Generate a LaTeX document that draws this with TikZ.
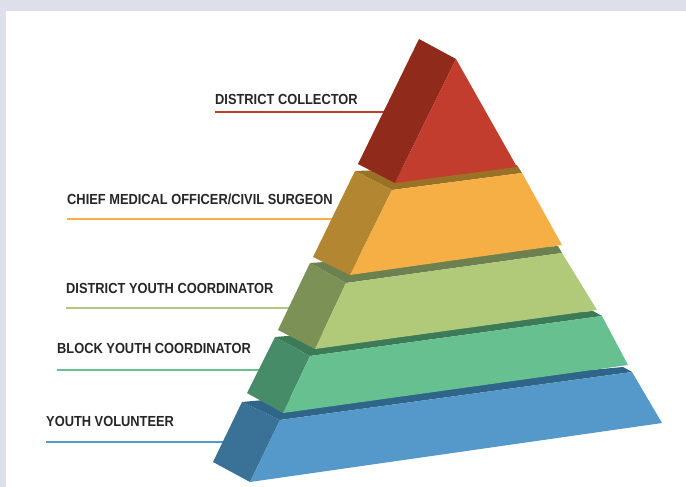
\documentclass[tikz,border=0pt]{standalone}
\usepackage{fontspec}
\setmainfont{Liberation Sans}[FakeStretch=0.88]
\definecolor{frame}{HTML}{DDDFEA}
\definecolor{txt}{HTML}{262626}
\definecolor{redS}{HTML}{902A1A}
\definecolor{redF}{HTML}{C23D2E}
\definecolor{orS}{HTML}{B38632}
\definecolor{orF}{HTML}{F5AF45}
\definecolor{orT}{HTML}{9A7226}
\definecolor{ygS}{HTML}{7C9155}
\definecolor{ygF}{HTML}{B0CA7A}
\definecolor{ygT}{HTML}{6D8050}
\definecolor{tlS}{HTML}{468C68}
\definecolor{tlF}{HTML}{66C08F}
\definecolor{tlT}{HTML}{3D7B58}
\definecolor{blS}{HTML}{3A7297}
\definecolor{blF}{HTML}{5499C9}
\definecolor{blT}{HTML}{2F6589}
\tikzset{
  lbl/.style={anchor=base west, inner sep=0pt, text=txt, font=\fontsize{14.6}{16}\selectfont\bfseries},
  uline/.style={line width=2.4pt},
  face/.style={draw=none}
}
\begin{document}
\begin{tikzpicture}[x=1pt,y=-1pt]
\useasboundingbox (0,0) rectangle (686,487);
\fill[frame] (0,0) rectangle (686,487);
\fill[white] (6,11) rectangle (686,487);
% labels
\node[lbl] (dc) at (215,104) {DISTRICT COLLECTOR};
\node[lbl] (cmo) at (67,204) {CHIEF MEDICAL OFFICER/CIVIL SURGEON};
\node[lbl] (dyc) at (66,293) {DISTRICT YOUTH COORDINATOR};
\node[lbl] (byc) at (57,353) {BLOCK YOUTH COORDINATOR};
\node[lbl] (yv) at (46,426) {YOUTH VOLUNTEER};
% underline coordinates
\coordinate (dcA) at (215,112); \coordinate (dcB) at (395,112);
\coordinate (cmoA) at (67,219); \coordinate (cmoB) at (340,219);
\coordinate (dycA) at (66,308); \coordinate (dycB) at (300,308);
\coordinate (bycA) at (57,370); \coordinate (bycB) at (265,370);
\coordinate (yvA) at (46,442); \coordinate (yvB) at (235,442);
\draw[uline, redF] (dcA) -- (dcB);
\draw[uline, orF] (cmoA) -- (cmoB);
\draw[uline, ygF] (dycA) -- (dycB);
\draw[uline, tlF] (bycA) -- (bycB);
\draw[uline, blF] (yvA) -- (yvB);
% blue tier
\fill[blT] (242,402) -- (623,367) -- (632,372) -- (280,420) -- cycle;
\fill[blS] (242,402) -- (280,420) -- (250,482) -- (213,462) -- cycle;
\fill[blF] (280,420) -- (632,372) -- (662,423) -- (250,482) -- cycle;
% teal tier
\fill[tlT] (275,337) -- (593,311) -- (602,316) -- (310,356) -- cycle;
\fill[tlS] (275,337) -- (310,356) -- (283,413) -- (247,393) -- cycle;
\fill[tlF] (310,356) -- (602,316) -- (628,365) -- (283,413) -- cycle;
% yellow-green tier
\fill[ygT] (310,263) -- (558,246) -- (562,253) -- (346,283) -- cycle;
\fill[ygS] (310,263) -- (346,283) -- (315,349) -- (278,330) -- cycle;
\fill[ygF] (346,283) -- (562,253) -- (597,310) -- (315,349) -- cycle;
% orange tier
\fill[orT] (355,171) -- (517,165) -- (522,173) -- (392,190) -- cycle;
\fill[orS] (355,171) -- (392,190) -- (350,275) -- (313,257) -- cycle;
\fill[orF] (392,190) -- (522,173) -- (562,245) -- (350,275) -- cycle;
% red tier
\fill[redS] (419,39) -- (456,59) -- (395,183) -- (358,164) -- cycle;
\fill[redF] (456,59) -- (517,167) -- (395,183) -- cycle;
\end{tikzpicture}
\end{document}
